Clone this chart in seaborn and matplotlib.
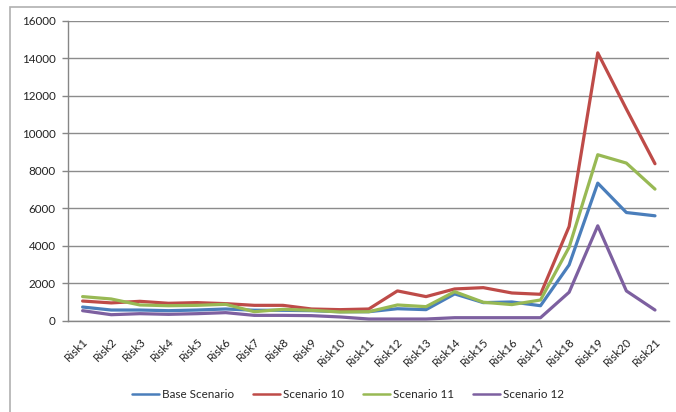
import matplotlib
matplotlib.use("Agg")
import matplotlib.pyplot as plt
from matplotlib.patches import Rectangle
from matplotlib.ticker import FixedLocator
import seaborn as sns
import pandas as pd

categories = [f"Risk{i}" for i in range(1, 22)]
series_names = ["Base Scenario", "Scenario 10", "Scenario 11", "Scenario 12"]

base_scenario = [730, 570, 570, 535, 570, 625, 560, 555, 535, 480, 480, 640, 590,
                 1430, 965, 1000, 800, 2980, 7345, 5775, 5600]
scenario_10 = [1050, 950, 1035, 930, 965, 910, 820, 820, 625, 590, 625, 1590, 1286,
               1695, 1765, 1480, 1410, 5030, 14300, 11300, 8380]
scenario_11 = [1286, 1160, 840, 800, 820, 875, 480, 607, 555, 465, 480, 840, 750,
               1550, 985, 860, 1105, 3925, 8860, 8415, 7025]
scenario_12 = [535, 320, 375, 340, 375, 430, 285, 285, 270, 200, 90, 90, 90,
               160, 160, 160, 160, 1520, 5065, 1590, 570]

yticks = [0, 2000, 4000, 6000, 8000, 10000, 12000, 14000, 16000]
colors = ["#4A7EBB", "#BE4B48", "#98B954", "#7D60A0"]

df = pd.DataFrame({
    "Risk": categories * 4,
    "Value": base_scenario + scenario_10 + scenario_11 + scenario_12,
    "Series": sum([[s] * len(categories) for s in series_names], []),
})

sns.set_style("white")
plt.rcParams["font.family"] = ["Lato", "DejaVu Sans"]

W, H = 676, 412
fig = plt.figure(figsize=(W / 100, H / 100), dpi=100)
ax = fig.add_axes([68.3 / W, 1 - 320.7 / H, (669.3 - 68.3) / W, (320.7 - 21) / H])

sns.lineplot(data=df, x="Risk", y="Value", hue="Series", palette=colors,
             sort=False, linewidth=2.3, ax=ax, legend=True)

ax.set_xlim(-0.5, len(categories) - 0.5)
ax.set_ylim(0, 16000)
ax.set_yticks(yticks)
ax.set_yticklabels([str(v) for v in yticks], fontsize=8.4, color="#222222")
ax.set_xticks(range(len(categories)))
ax.set_xticklabels(categories, rotation=45, ha="right", rotation_mode="anchor",
                   fontsize=8.4, color="#222222")
ax.xaxis.set_minor_locator(FixedLocator([i - 0.5 for i in range(len(categories) + 1)]))
ax.tick_params(axis="x", which="major", length=0, pad=11)
ax.tick_params(axis="x", which="minor", length=4, color="#868686", width=1, direction="out")
ax.tick_params(axis="y", length=4, color="#868686", width=1, direction="out", pad=5, left=True)
ax.set_xlabel("")
ax.set_ylabel("")
ax.grid(axis="y", color="#8C8C8C", linewidth=1)
ax.set_axisbelow(True)
for s in ["top", "right"]:
    ax.spines[s].set_visible(False)
for s in ["left", "bottom"]:
    ax.spines[s].set_color("#868686")
    ax.spines[s].set_linewidth(1)

leg = ax.legend(loc="center", bbox_to_anchor=(348 / W, 1 - 395 / H),
                bbox_transform=fig.transFigure, ncol=4, frameon=False,
                fontsize=8.4, handlelength=2.3, handletextpad=0.2,
                columnspacing=1.7, borderpad=0)
for line in leg.get_lines():
    line.set_linewidth(1.8)

fig.add_artist(Rectangle((10 / W, -0.1), 1.2, 1 - 7 / H + 0.1,
                         transform=fig.transFigure, fill=False,
                         edgecolor="#B0B0B0", linewidth=1.2))

fig.savefig("out.png", dpi=100)
